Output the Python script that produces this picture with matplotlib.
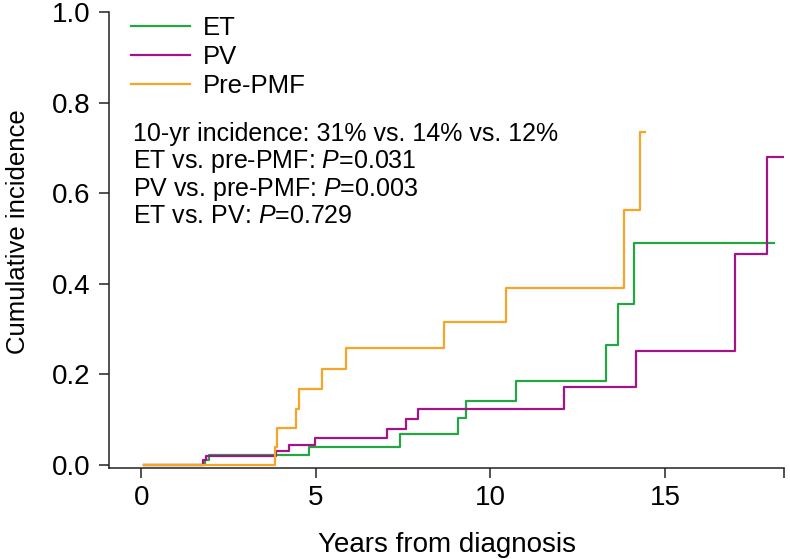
import matplotlib
matplotlib.use("Agg")
import matplotlib.pyplot as plt

plt.rcParams["font.family"] = ["Liberation Sans", "DejaVu Sans"]
plt.rcParams["mathtext.fontset"] = "custom"
plt.rcParams["mathtext.rm"] = "Liberation Sans"
plt.rcParams["mathtext.it"] = "Liberation Sans:italic"

COLOURS = {
    "ET": "#26A642",
    "PV": "#A31487",
    "Pre-PMF": "#F6A526",
}

# years from diagnosis / cumulative incidence
et_years = [0.07, 1.82, 1.94, 4.81, 7.41, 9.06, 9.30, 10.74, 13.30, 13.66, 14.10, 18.13]
et_inc = [0.0, 0.011, 0.022, 0.040, 0.068, 0.103, 0.142, 0.186, 0.266, 0.356, 0.489, 0.489]

pv_years = [0.07, 1.75, 1.85, 3.85, 4.24, 4.97, 7.04, 7.57, 7.93, 12.11, 14.17, 17.00, 17.91, 18.41]
pv_inc = [0.0, 0.010, 0.019, 0.032, 0.045, 0.060, 0.079, 0.101, 0.124, 0.172, 0.252, 0.465, 0.679, 0.679]

pmf_years = [0.07, 3.83, 3.89, 4.43, 4.52, 5.18, 5.85, 8.67, 10.44, 13.83, 14.29, 14.43]
pmf_inc = [0.0, 0.040, 0.081, 0.124, 0.168, 0.211, 0.258, 0.316, 0.390, 0.563, 0.736, 0.736]

x_ticks = [0, 5, 10, 15]
y_ticks = [0.0, 0.2, 0.4, 0.6, 0.8, 1.0]

annotation = (
    "10-yr incidence: 31% vs. 14% vs. 12%\n"
    "ET vs. pre-PMF: $\\mathit{P}$=0.031\n"
    "PV vs. pre-PMF: $\\mathit{P}$=0.003\n"
    "ET vs. PV: $\\mathit{P}$=0.729"
)

fig = plt.figure(figsize=(7.9, 5.59), dpi=100)
ax = fig.add_axes([109 / 790, 1 - 468 / 559, 675 / 790, 456 / 559])

curves = [
    ("ET", et_years, et_inc),
    ("PV", pv_years, pv_inc),
    ("Pre-PMF", pmf_years, pmf_inc),
]
for name, years, inc in curves:
    ax.step(years, inc, where="post", color=COLOURS[name], lw=1.6, label=name)

ax.set_xlim(-0.931, 18.41)
ax.set_ylim(-0.0066, 1.0)
ax.set_xticks(x_ticks)
ax.set_yticks(y_ticks)
ax.set_yticklabels([f"{v:.1f}" for v in y_ticks])
ax.set_xticks([18.41], minor=True)
ax.tick_params(axis="both", which="both", direction="out", length=7.2, width=1.1,
               labelsize=20, color="#222222")
ax.tick_params(axis="y", pad=6)
ax.tick_params(axis="x", pad=5)

for side in ("top", "right"):
    ax.spines[side].set_visible(False)
for side in ("left", "bottom"):
    ax.spines[side].set_linewidth(1.1)
    ax.spines[side].set_color("#222222")

ax.set_xlabel("Years from diagnosis", fontsize=20, labelpad=15)
ax.set_ylabel("Cumulative incidence", fontsize=18.5)
ax.yaxis.set_label_coords(-0.117, 0.5175)

ax.legend(loc="upper left", bbox_to_anchor=(0.032, 0.991), frameon=False, fontsize=18.5,
          handlelength=2.3, handletextpad=0.5, labelspacing=0.2, borderaxespad=0.0,
          borderpad=0.0)

ax.text(0.035, 0.758, annotation, transform=ax.transAxes, fontsize=18,
        ha="left", va="top", linespacing=1.06)

fig.savefig("out.png", dpi=100)
